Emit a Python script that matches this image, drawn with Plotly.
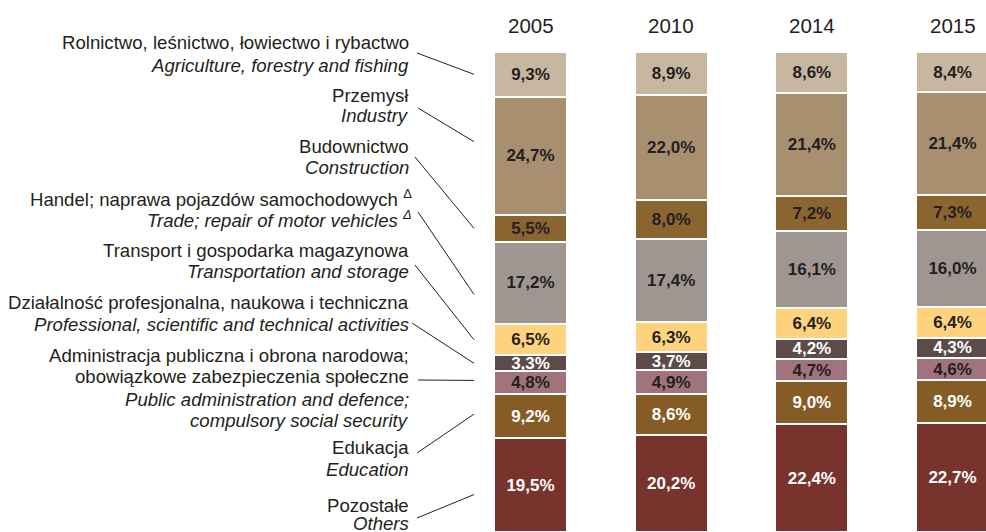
import plotly.graph_objects as go

# ---------------- data ----------------
years = ["2005", "2010", "2014", "2015"]
sectors_pl = [
    ["Rolnictwo, leśnictwo, łowiectwo i rybactwo"],
    ["Przemysł"],
    ["Budownictwo"],
    ["Handel; naprawa pojazdów samochodowych <sup>Δ</sup>"],
    ["Transport i gospodarka magazynowa"],
    ["Działalność profesjonalna, naukowa i techniczna"],
    ["Administracja publiczna i obrona narodowa;", "obowiązkowe zabezpieczenia społeczne"],
    ["Edukacja"],
    ["Pozostałe"],
]
sectors_en = [
    ["Agriculture, forestry and fishing"],
    ["Industry"],
    ["Construction"],
    ["Trade; repair of motor vehicles <sup>Δ</sup>"],
    ["Transportation and storage"],
    ["Professional, scientific and technical activities"],
    ["Public administration and defence;", "compulsory social security"],
    ["Education"],
    ["Others"],
]
# shares (%) per sector, top of bar to bottom
agriculture = [9.3, 8.9, 8.6, 8.4]
industry = [24.7, 22.0, 21.4, 21.4]
construction = [5.5, 8.0, 7.2, 7.3]
trade = [17.2, 17.4, 16.1, 16.0]
transport = [6.5, 6.3, 6.4, 6.4]
professional = [3.3, 3.7, 4.2, 4.3]
public_admin = [4.8, 4.9, 4.7, 4.6]
education = [9.2, 8.6, 9.0, 8.9]
others = [19.5, 20.2, 22.4, 22.7]
series = [agriculture, industry, construction, trade, transport,
          professional, public_admin, education, others]

# ---------------- style ----------------
colors = ["#c8b7a0", "#a88f70", "#8b6530", "#a09691", "#ffd27d",
          "#5c4b48", "#a0737d", "#855c26", "#78342c"]
text_colors = ["#231f20", "#231f20", "#231f20", "#231f20", "#231f20",
               "#ffffff", "#231f20", "#ffffff", "#ffffff"]
DARK = "#231f20"
FONT = "Liberation Sans, Arial, sans-serif"

W, H = 986, 532
PLOT_TOP = 52            # page y of plot-area top
PLOT_H = H - PLOT_TOP    # plot area reaches the bottom of the page

def xp(px):
    return px / W

def yp(py):
    return (H - py) / PLOT_H

fig = go.Figure()
xs = list(range(len(years)))
for k in reversed(range(len(series))):
    vals = series[k]
    fig.add_trace(go.Bar(
        x=xs, y=vals,
        marker=dict(color=colors[k], line=dict(color="white", width=2)),
        text=[f"{v:.1f}%".replace(".", ",") for v in vals],
        textposition="inside", insidetextanchor="middle",
        constraintext="none",
        textfont=dict(family=FONT, size=17, color=text_colors[k], weight="bold"),
        width=0.52, hoverinfo="skip", showlegend=False,
    ))

annotations = []
for i, y in enumerate(years):
    annotations.append(dict(x=i, y=yp(25), xref="x", yref="paper", text=y,
                            showarrow=False, xanchor="center", yanchor="middle",
                            font=dict(family=FONT, size=20.5, color=DARK)))

# label line positions (pixel y centres) for each sector
label_rows = [
    [43, 65], [95, 116], [146, 167], [198, 219], [250, 271],
    [302, 324], [355, 377, 399, 420], [447, 469], [505, 523],
]
label_right = [410, 410, 410, 413, 410, 410, 410, 410, 410]
for k in range(len(series)):
    lines = [(t, False) for t in sectors_pl[k]] + [(t, True) for t in sectors_en[k]]
    for (t, it), py in zip(lines, label_rows[k]):
        annotations.append(dict(
            x=xp(label_right[k]), y=yp(py), xref="paper", yref="paper",
            text=f"<i>{t}</i>" if it else t, showarrow=False,
            xanchor="right", yanchor="middle", borderpad=0,
            font=dict(family=FONT, size=18.6, color=DARK)))

# leader lines: start near label, end at the 2005 segment
line_start = [(417, 53), (418, 108), (415, 157), (418, 212), (415, 265),
              (412, 323), (418, 380), (417, 453), (417, 518)]
anchor_frac = [0.5, 0.38, 0.5, 0.64, 0.5, 0.5, 0.4, 0.45, 0.6]
shapes = []
first = [s[0] for s in series]
cum = 0.0
for k in range(len(series)):
    top_from_top = cum
    cum += first[k]
    yd = 100 - (top_from_top + anchor_frac[k] * first[k])
    sx, sy = line_start[k]
    shapes.append(dict(type="line", xref="paper", yref="paper",
                       x0=xp(sx), y0=yp(sy), x1=xp(474), y1=yd / 100,
                       line=dict(color=DARK, width=1)))

# x range so that bars sit at measured pixel columns
c0, step = 530.5, 140.67
fig.update_layout(
    width=W, height=H,
    margin=dict(l=0, r=0, t=PLOT_TOP, b=0, pad=0),
    paper_bgcolor="white", plot_bgcolor="white",
    barmode="stack",
    xaxis=dict(range=[-c0 / step, 3 + (W - (c0 + 3 * step)) / step],
               visible=False, fixedrange=True),
    yaxis=dict(range=[0, 100], visible=False, fixedrange=True),
    annotations=annotations, shapes=shapes,
)
fig.write_html(
    "out.html",
    config={"displayModeBar": False, "staticPlot": True},
    post_script="document.body.style.margin='0';document.body.style.overflow='hidden';",
)
